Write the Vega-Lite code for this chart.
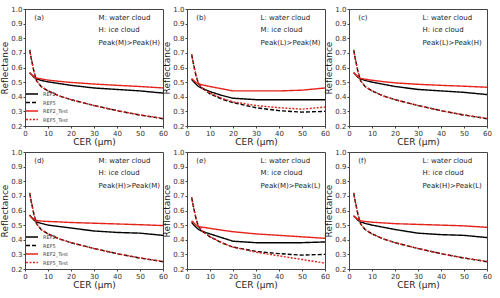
{
  "$schema": "https://vega.github.io/schema/vega-lite/v6.json",
  "padding": {"left": 0, "top": 4, "right": 0, "bottom": 0},
  "background": "white",
  "datasets": {
    "curves": [
      {"p":"a","s":"REF2","x":2,"y":0.565},{"p":"a","s":"REF2","x":3,"y":0.548},{"p":"a","s":"REF2","x":4,"y":0.532},{"p":"a","s":"REF2","x":5,"y":0.522},{"p":"a","s":"REF2","x":7,"y":0.512},{"p":"a","s":"REF2","x":10,"y":0.502},{"p":"a","s":"REF2","x":15,"y":0.49},{"p":"a","s":"REF2","x":20,"y":0.478},{"p":"a","s":"REF2","x":30,"y":0.46},{"p":"a","s":"REF2","x":40,"y":0.45},{"p":"a","s":"REF2","x":50,"y":0.44},{"p":"a","s":"REF2","x":60,"y":0.425},
      {"p":"a","s":"REF5","x":2,"y":0.72},{"p":"a","s":"REF5","x":3,"y":0.64},{"p":"a","s":"REF5","x":4,"y":0.565},{"p":"a","s":"REF5","x":5,"y":0.51},{"p":"a","s":"REF5","x":7,"y":0.47},{"p":"a","s":"REF5","x":10,"y":0.44},{"p":"a","s":"REF5","x":15,"y":0.405},{"p":"a","s":"REF5","x":20,"y":0.38},{"p":"a","s":"REF5","x":30,"y":0.34},{"p":"a","s":"REF5","x":40,"y":0.305},{"p":"a","s":"REF5","x":50,"y":0.275},{"p":"a","s":"REF5","x":60,"y":0.25},
      {"p":"a","s":"REF2_Test","x":2,"y":0.565},{"p":"a","s":"REF2_Test","x":3,"y":0.55},{"p":"a","s":"REF2_Test","x":4,"y":0.536},{"p":"a","s":"REF2_Test","x":5,"y":0.528},{"p":"a","s":"REF2_Test","x":7,"y":0.522},{"p":"a","s":"REF2_Test","x":10,"y":0.514},{"p":"a","s":"REF2_Test","x":15,"y":0.505},{"p":"a","s":"REF2_Test","x":20,"y":0.498},{"p":"a","s":"REF2_Test","x":30,"y":0.487},{"p":"a","s":"REF2_Test","x":40,"y":0.478},{"p":"a","s":"REF2_Test","x":50,"y":0.47},{"p":"a","s":"REF2_Test","x":60,"y":0.46},
      {"p":"a","s":"REF5_Test","x":2,"y":0.72},{"p":"a","s":"REF5_Test","x":3,"y":0.64},{"p":"a","s":"REF5_Test","x":4,"y":0.565},{"p":"a","s":"REF5_Test","x":5,"y":0.51},{"p":"a","s":"REF5_Test","x":7,"y":0.47},{"p":"a","s":"REF5_Test","x":10,"y":0.44},{"p":"a","s":"REF5_Test","x":15,"y":0.405},{"p":"a","s":"REF5_Test","x":20,"y":0.38},{"p":"a","s":"REF5_Test","x":30,"y":0.34},{"p":"a","s":"REF5_Test","x":40,"y":0.305},{"p":"a","s":"REF5_Test","x":50,"y":0.276},{"p":"a","s":"REF5_Test","x":60,"y":0.252},

      {"p":"b","s":"REF2","x":2,"y":0.52},{"p":"b","s":"REF2","x":3,"y":0.5},{"p":"b","s":"REF2","x":4,"y":0.485},{"p":"b","s":"REF2","x":5,"y":0.47},{"p":"b","s":"REF2","x":7,"y":0.455},{"p":"b","s":"REF2","x":10,"y":0.435},{"p":"b","s":"REF2","x":15,"y":0.41},{"p":"b","s":"REF2","x":20,"y":0.39},{"p":"b","s":"REF2","x":30,"y":0.38},{"p":"b","s":"REF2","x":40,"y":0.38},{"p":"b","s":"REF2","x":50,"y":0.38},{"p":"b","s":"REF2","x":60,"y":0.38},
      {"p":"b","s":"REF5","x":2,"y":0.69},{"p":"b","s":"REF5","x":3,"y":0.61},{"p":"b","s":"REF5","x":4,"y":0.54},{"p":"b","s":"REF5","x":5,"y":0.49},{"p":"b","s":"REF5","x":7,"y":0.455},{"p":"b","s":"REF5","x":10,"y":0.42},{"p":"b","s":"REF5","x":15,"y":0.385},{"p":"b","s":"REF5","x":20,"y":0.36},{"p":"b","s":"REF5","x":30,"y":0.325},{"p":"b","s":"REF5","x":40,"y":0.305},{"p":"b","s":"REF5","x":50,"y":0.295},{"p":"b","s":"REF5","x":60,"y":0.3},
      {"p":"b","s":"REF2_Test","x":2,"y":0.525},{"p":"b","s":"REF2_Test","x":3,"y":0.51},{"p":"b","s":"REF2_Test","x":4,"y":0.497},{"p":"b","s":"REF2_Test","x":5,"y":0.488},{"p":"b","s":"REF2_Test","x":7,"y":0.48},{"p":"b","s":"REF2_Test","x":10,"y":0.47},{"p":"b","s":"REF2_Test","x":15,"y":0.455},{"p":"b","s":"REF2_Test","x":20,"y":0.44},{"p":"b","s":"REF2_Test","x":30,"y":0.44},{"p":"b","s":"REF2_Test","x":40,"y":0.44},{"p":"b","s":"REF2_Test","x":50,"y":0.445},{"p":"b","s":"REF2_Test","x":60,"y":0.46},
      {"p":"b","s":"REF5_Test","x":2,"y":0.69},{"p":"b","s":"REF5_Test","x":3,"y":0.61},{"p":"b","s":"REF5_Test","x":4,"y":0.54},{"p":"b","s":"REF5_Test","x":5,"y":0.49},{"p":"b","s":"REF5_Test","x":7,"y":0.455},{"p":"b","s":"REF5_Test","x":10,"y":0.425},{"p":"b","s":"REF5_Test","x":15,"y":0.39},{"p":"b","s":"REF5_Test","x":20,"y":0.365},{"p":"b","s":"REF5_Test","x":30,"y":0.34},{"p":"b","s":"REF5_Test","x":40,"y":0.325},{"p":"b","s":"REF5_Test","x":50,"y":0.315},{"p":"b","s":"REF5_Test","x":60,"y":0.33},

      {"p":"c","s":"REF2","x":2,"y":0.565},{"p":"c","s":"REF2","x":3,"y":0.548},{"p":"c","s":"REF2","x":4,"y":0.532},{"p":"c","s":"REF2","x":5,"y":0.522},{"p":"c","s":"REF2","x":7,"y":0.512},{"p":"c","s":"REF2","x":10,"y":0.5},{"p":"c","s":"REF2","x":15,"y":0.485},{"p":"c","s":"REF2","x":20,"y":0.47},{"p":"c","s":"REF2","x":30,"y":0.45},{"p":"c","s":"REF2","x":40,"y":0.44},{"p":"c","s":"REF2","x":50,"y":0.43},{"p":"c","s":"REF2","x":60,"y":0.415},
      {"p":"c","s":"REF5","x":2,"y":0.72},{"p":"c","s":"REF5","x":3,"y":0.64},{"p":"c","s":"REF5","x":4,"y":0.565},{"p":"c","s":"REF5","x":5,"y":0.51},{"p":"c","s":"REF5","x":7,"y":0.47},{"p":"c","s":"REF5","x":10,"y":0.44},{"p":"c","s":"REF5","x":15,"y":0.405},{"p":"c","s":"REF5","x":20,"y":0.38},{"p":"c","s":"REF5","x":30,"y":0.34},{"p":"c","s":"REF5","x":40,"y":0.305},{"p":"c","s":"REF5","x":50,"y":0.275},{"p":"c","s":"REF5","x":60,"y":0.25},
      {"p":"c","s":"REF2_Test","x":2,"y":0.565},{"p":"c","s":"REF2_Test","x":3,"y":0.55},{"p":"c","s":"REF2_Test","x":4,"y":0.536},{"p":"c","s":"REF2_Test","x":5,"y":0.525},{"p":"c","s":"REF2_Test","x":7,"y":0.52},{"p":"c","s":"REF2_Test","x":10,"y":0.513},{"p":"c","s":"REF2_Test","x":15,"y":0.503},{"p":"c","s":"REF2_Test","x":20,"y":0.495},{"p":"c","s":"REF2_Test","x":30,"y":0.485},{"p":"c","s":"REF2_Test","x":40,"y":0.478},{"p":"c","s":"REF2_Test","x":50,"y":0.472},{"p":"c","s":"REF2_Test","x":60,"y":0.465},
      {"p":"c","s":"REF5_Test","x":2,"y":0.72},{"p":"c","s":"REF5_Test","x":3,"y":0.64},{"p":"c","s":"REF5_Test","x":4,"y":0.565},{"p":"c","s":"REF5_Test","x":5,"y":0.51},{"p":"c","s":"REF5_Test","x":7,"y":0.47},{"p":"c","s":"REF5_Test","x":10,"y":0.44},{"p":"c","s":"REF5_Test","x":15,"y":0.405},{"p":"c","s":"REF5_Test","x":20,"y":0.38},{"p":"c","s":"REF5_Test","x":30,"y":0.34},{"p":"c","s":"REF5_Test","x":40,"y":0.305},{"p":"c","s":"REF5_Test","x":50,"y":0.276},{"p":"c","s":"REF5_Test","x":60,"y":0.252},

      {"p":"d","s":"REF2","x":2,"y":0.57},{"p":"d","s":"REF2","x":3,"y":0.55},{"p":"d","s":"REF2","x":4,"y":0.533},{"p":"d","s":"REF2","x":5,"y":0.522},{"p":"d","s":"REF2","x":7,"y":0.512},{"p":"d","s":"REF2","x":10,"y":0.5},{"p":"d","s":"REF2","x":15,"y":0.49},{"p":"d","s":"REF2","x":20,"y":0.48},{"p":"d","s":"REF2","x":30,"y":0.46},{"p":"d","s":"REF2","x":40,"y":0.45},{"p":"d","s":"REF2","x":50,"y":0.445},{"p":"d","s":"REF2","x":60,"y":0.43},
      {"p":"d","s":"REF5","x":2,"y":0.72},{"p":"d","s":"REF5","x":3,"y":0.64},{"p":"d","s":"REF5","x":4,"y":0.565},{"p":"d","s":"REF5","x":5,"y":0.51},{"p":"d","s":"REF5","x":7,"y":0.47},{"p":"d","s":"REF5","x":10,"y":0.44},{"p":"d","s":"REF5","x":15,"y":0.405},{"p":"d","s":"REF5","x":20,"y":0.38},{"p":"d","s":"REF5","x":30,"y":0.34},{"p":"d","s":"REF5","x":40,"y":0.305},{"p":"d","s":"REF5","x":50,"y":0.275},{"p":"d","s":"REF5","x":60,"y":0.25},
      {"p":"d","s":"REF2_Test","x":2,"y":0.565},{"p":"d","s":"REF2_Test","x":3,"y":0.55},{"p":"d","s":"REF2_Test","x":4,"y":0.538},{"p":"d","s":"REF2_Test","x":5,"y":0.532},{"p":"d","s":"REF2_Test","x":7,"y":0.528},{"p":"d","s":"REF2_Test","x":10,"y":0.525},{"p":"d","s":"REF2_Test","x":15,"y":0.522},{"p":"d","s":"REF2_Test","x":20,"y":0.518},{"p":"d","s":"REF2_Test","x":30,"y":0.513},{"p":"d","s":"REF2_Test","x":40,"y":0.508},{"p":"d","s":"REF2_Test","x":50,"y":0.503},{"p":"d","s":"REF2_Test","x":60,"y":0.497},
      {"p":"d","s":"REF5_Test","x":2,"y":0.72},{"p":"d","s":"REF5_Test","x":3,"y":0.64},{"p":"d","s":"REF5_Test","x":4,"y":0.565},{"p":"d","s":"REF5_Test","x":5,"y":0.51},{"p":"d","s":"REF5_Test","x":7,"y":0.47},{"p":"d","s":"REF5_Test","x":10,"y":0.44},{"p":"d","s":"REF5_Test","x":15,"y":0.405},{"p":"d","s":"REF5_Test","x":20,"y":0.38},{"p":"d","s":"REF5_Test","x":30,"y":0.34},{"p":"d","s":"REF5_Test","x":40,"y":0.305},{"p":"d","s":"REF5_Test","x":50,"y":0.276},{"p":"d","s":"REF5_Test","x":60,"y":0.252},

      {"p":"e","s":"REF2","x":2,"y":0.52},{"p":"e","s":"REF2","x":3,"y":0.5},{"p":"e","s":"REF2","x":4,"y":0.485},{"p":"e","s":"REF2","x":5,"y":0.47},{"p":"e","s":"REF2","x":7,"y":0.455},{"p":"e","s":"REF2","x":10,"y":0.44},{"p":"e","s":"REF2","x":15,"y":0.415},{"p":"e","s":"REF2","x":20,"y":0.39},{"p":"e","s":"REF2","x":30,"y":0.38},{"p":"e","s":"REF2","x":40,"y":0.38},{"p":"e","s":"REF2","x":50,"y":0.38},{"p":"e","s":"REF2","x":60,"y":0.385},
      {"p":"e","s":"REF5","x":2,"y":0.69},{"p":"e","s":"REF5","x":3,"y":0.61},{"p":"e","s":"REF5","x":4,"y":0.54},{"p":"e","s":"REF5","x":5,"y":0.49},{"p":"e","s":"REF5","x":7,"y":0.455},{"p":"e","s":"REF5","x":10,"y":0.42},{"p":"e","s":"REF5","x":15,"y":0.38},{"p":"e","s":"REF5","x":20,"y":0.35},{"p":"e","s":"REF5","x":30,"y":0.32},{"p":"e","s":"REF5","x":40,"y":0.305},{"p":"e","s":"REF5","x":50,"y":0.295},{"p":"e","s":"REF5","x":60,"y":0.3},
      {"p":"e","s":"REF2_Test","x":2,"y":0.53},{"p":"e","s":"REF2_Test","x":3,"y":0.515},{"p":"e","s":"REF2_Test","x":4,"y":0.5},{"p":"e","s":"REF2_Test","x":5,"y":0.49},{"p":"e","s":"REF2_Test","x":7,"y":0.485},{"p":"e","s":"REF2_Test","x":10,"y":0.478},{"p":"e","s":"REF2_Test","x":15,"y":0.466},{"p":"e","s":"REF2_Test","x":20,"y":0.455},{"p":"e","s":"REF2_Test","x":30,"y":0.44},{"p":"e","s":"REF2_Test","x":40,"y":0.43},{"p":"e","s":"REF2_Test","x":50,"y":0.42},{"p":"e","s":"REF2_Test","x":60,"y":0.41},
      {"p":"e","s":"REF5_Test","x":2,"y":0.69},{"p":"e","s":"REF5_Test","x":3,"y":0.61},{"p":"e","s":"REF5_Test","x":4,"y":0.54},{"p":"e","s":"REF5_Test","x":5,"y":0.49},{"p":"e","s":"REF5_Test","x":7,"y":0.455},{"p":"e","s":"REF5_Test","x":10,"y":0.42},{"p":"e","s":"REF5_Test","x":15,"y":0.38},{"p":"e","s":"REF5_Test","x":20,"y":0.35},{"p":"e","s":"REF5_Test","x":30,"y":0.315},{"p":"e","s":"REF5_Test","x":40,"y":0.29},{"p":"e","s":"REF5_Test","x":50,"y":0.265},{"p":"e","s":"REF5_Test","x":60,"y":0.24},

      {"p":"f","s":"REF2","x":2,"y":0.565},{"p":"f","s":"REF2","x":3,"y":0.548},{"p":"f","s":"REF2","x":4,"y":0.532},{"p":"f","s":"REF2","x":5,"y":0.522},{"p":"f","s":"REF2","x":7,"y":0.512},{"p":"f","s":"REF2","x":10,"y":0.5},{"p":"f","s":"REF2","x":15,"y":0.485},{"p":"f","s":"REF2","x":20,"y":0.47},{"p":"f","s":"REF2","x":30,"y":0.445},{"p":"f","s":"REF2","x":40,"y":0.435},{"p":"f","s":"REF2","x":50,"y":0.43},{"p":"f","s":"REF2","x":60,"y":0.415},
      {"p":"f","s":"REF5","x":2,"y":0.72},{"p":"f","s":"REF5","x":3,"y":0.64},{"p":"f","s":"REF5","x":4,"y":0.565},{"p":"f","s":"REF5","x":5,"y":0.51},{"p":"f","s":"REF5","x":7,"y":0.47},{"p":"f","s":"REF5","x":10,"y":0.44},{"p":"f","s":"REF5","x":15,"y":0.405},{"p":"f","s":"REF5","x":20,"y":0.38},{"p":"f","s":"REF5","x":30,"y":0.34},{"p":"f","s":"REF5","x":40,"y":0.305},{"p":"f","s":"REF5","x":50,"y":0.275},{"p":"f","s":"REF5","x":60,"y":0.25},
      {"p":"f","s":"REF2_Test","x":2,"y":0.56},{"p":"f","s":"REF2_Test","x":3,"y":0.55},{"p":"f","s":"REF2_Test","x":4,"y":0.538},{"p":"f","s":"REF2_Test","x":5,"y":0.53},{"p":"f","s":"REF2_Test","x":7,"y":0.525},{"p":"f","s":"REF2_Test","x":10,"y":0.52},{"p":"f","s":"REF2_Test","x":15,"y":0.515},{"p":"f","s":"REF2_Test","x":20,"y":0.51},{"p":"f","s":"REF2_Test","x":30,"y":0.505},{"p":"f","s":"REF2_Test","x":40,"y":0.5},{"p":"f","s":"REF2_Test","x":50,"y":0.495},{"p":"f","s":"REF2_Test","x":60,"y":0.485},
      {"p":"f","s":"REF5_Test","x":2,"y":0.72},{"p":"f","s":"REF5_Test","x":3,"y":0.64},{"p":"f","s":"REF5_Test","x":4,"y":0.565},{"p":"f","s":"REF5_Test","x":5,"y":0.51},{"p":"f","s":"REF5_Test","x":7,"y":0.47},{"p":"f","s":"REF5_Test","x":10,"y":0.44},{"p":"f","s":"REF5_Test","x":15,"y":0.405},{"p":"f","s":"REF5_Test","x":20,"y":0.38},{"p":"f","s":"REF5_Test","x":30,"y":0.34},{"p":"f","s":"REF5_Test","x":40,"y":0.305},{"p":"f","s":"REF5_Test","x":50,"y":0.276},{"p":"f","s":"REF5_Test","x":60,"y":0.252}
    ],
    "notes": [
      {"p":"a","x":4,"y":0.94,"t":"(a)"},{"p":"a","x":32,"y":0.94,"t":"M: water cloud"},{"p":"a","x":32,"y":0.855,"t":"H: ice cloud"},{"p":"a","x":32,"y":0.77,"t":"Peak(M)>Peak(H)"},
      {"p":"b","x":4,"y":0.94,"t":"(b)"},{"p":"b","x":32,"y":0.94,"t":"L: water cloud"},{"p":"b","x":32,"y":0.855,"t":"M: ice cloud"},{"p":"b","x":32,"y":0.77,"t":"Peak(L)>Peak(M)"},
      {"p":"c","x":4,"y":0.94,"t":"(c)"},{"p":"c","x":32,"y":0.94,"t":"L: water cloud"},{"p":"c","x":32,"y":0.855,"t":"H: ice cloud"},{"p":"c","x":32,"y":0.77,"t":"Peak(L)>Peak(H)"},
      {"p":"d","x":4,"y":0.94,"t":"(d)"},{"p":"d","x":32,"y":0.94,"t":"M: water cloud"},{"p":"d","x":32,"y":0.855,"t":"H: ice cloud"},{"p":"d","x":32,"y":0.77,"t":"Peak(H)>Peak(M)"},
      {"p":"e","x":4,"y":0.94,"t":"(e)"},{"p":"e","x":32,"y":0.94,"t":"L: water cloud"},{"p":"e","x":32,"y":0.855,"t":"M: ice cloud"},{"p":"e","x":32,"y":0.77,"t":"Peak(M)>Peak(L)"},
      {"p":"f","x":4,"y":0.94,"t":"(f)"},{"p":"f","x":32,"y":0.94,"t":"L: water cloud"},{"p":"f","x":32,"y":0.855,"t":"H: ice cloud"},{"p":"f","x":32,"y":0.77,"t":"Peak(H)>Peak(L)"}
    ]
  },
  "columns": 3,
  "spacing": {"column": -6, "row": 0},
  "resolve": {"legend": {"color": "independent", "strokeDash": "independent"}},
  "concat": [
    {"width":138,"height":117,
     "encoding":{"x":{"field":"x","type":"quantitative","scale":{"domain":[0,60]},"axis":{"values":[0,10,20,30,40,50,60],"title":"CER (μm)"}},
        "y":{"field":"y","type":"quantitative","scale":{"domain":[0.2,1.0]},"axis":{"values":[0.2,0.3,0.4,0.5,0.6,0.7,0.8,0.9,1.0],"format":".1f","title":"Reflectance"}}},
     "layer":[
      {"data":{"name":"curves"},"transform":[{"filter":"datum.p==='a'"}],"mark":{"type":"line","strokeWidth":1.4},
       "encoding":{
        "color":{"field":"s","type":"nominal","scale":{"domain":["REF2","REF5","REF2_Test","REF5_Test"],"range":["#000000","#000000","#e5231b","#e5231b"]},"legend":{}},
        "strokeDash":{"field":"s","type":"nominal","scale":{"domain":["REF2","REF5","REF2_Test","REF5_Test"],"range":[[1,0],[4,2],[1,0],[2,1.5]]},"legend":{}}}},
      {"data":{"name":"notes"},"transform":[{"filter":"datum.p==='a'"}],"mark":{"type":"text","align":"left","baseline":"middle","fontSize":7,"font":"DejaVu Sans","color":"#222"},
       "encoding":{"text":{"field":"t"}}}
    ]},
    {"width":138,"height":117,
     "encoding":{"x":{"field":"x","type":"quantitative","scale":{"domain":[0,60]},"axis":{"values":[0,10,20,30,40,50,60],"title":"CER (μm)"}},
        "y":{"field":"y","type":"quantitative","scale":{"domain":[0.2,1.0]},"axis":{"values":[0.2,0.3,0.4,0.5,0.6,0.7,0.8,0.9,1.0],"format":".1f","title":"Reflectance"}}},
     "layer":[
      {"data":{"name":"curves"},"transform":[{"filter":"datum.p==='b'"}],"mark":{"type":"line","strokeWidth":1.4},
       "encoding":{
        "color":{"field":"s","type":"nominal","scale":{"domain":["REF2","REF5","REF2_Test","REF5_Test"],"range":["#000000","#000000","#e5231b","#e5231b"]},"legend":null},
        "strokeDash":{"field":"s","type":"nominal","scale":{"domain":["REF2","REF5","REF2_Test","REF5_Test"],"range":[[1,0],[4,2],[1,0],[2,1.5]]},"legend":null}}},
      {"data":{"name":"notes"},"transform":[{"filter":"datum.p==='b'"}],"mark":{"type":"text","align":"left","baseline":"middle","fontSize":7,"font":"DejaVu Sans","color":"#222"},
       "encoding":{"text":{"field":"t"}}}
    ]},
    {"width":138,"height":117,
     "encoding":{"x":{"field":"x","type":"quantitative","scale":{"domain":[0,60]},"axis":{"values":[0,10,20,30,40,50,60],"title":"CER (μm)"}},
        "y":{"field":"y","type":"quantitative","scale":{"domain":[0.2,1.0]},"axis":{"values":[0.2,0.3,0.4,0.5,0.6,0.7,0.8,0.9,1.0],"format":".1f","title":"Reflectance"}}},
     "layer":[
      {"data":{"name":"curves"},"transform":[{"filter":"datum.p==='c'"}],"mark":{"type":"line","strokeWidth":1.4},
       "encoding":{
        "color":{"field":"s","type":"nominal","scale":{"domain":["REF2","REF5","REF2_Test","REF5_Test"],"range":["#000000","#000000","#e5231b","#e5231b"]},"legend":null},
        "strokeDash":{"field":"s","type":"nominal","scale":{"domain":["REF2","REF5","REF2_Test","REF5_Test"],"range":[[1,0],[4,2],[1,0],[2,1.5]]},"legend":null}}},
      {"data":{"name":"notes"},"transform":[{"filter":"datum.p==='c'"}],"mark":{"type":"text","align":"left","baseline":"middle","fontSize":7,"font":"DejaVu Sans","color":"#222"},
       "encoding":{"text":{"field":"t"}}}
    ]},
    {"width":138,"height":117,
     "encoding":{"x":{"field":"x","type":"quantitative","scale":{"domain":[0,60]},"axis":{"values":[0,10,20,30,40,50,60],"title":"CER (μm)"}},
        "y":{"field":"y","type":"quantitative","scale":{"domain":[0.2,1.0]},"axis":{"values":[0.2,0.3,0.4,0.5,0.6,0.7,0.8,0.9,1.0],"format":".1f","title":"Reflectance"}}},
     "layer":[
      {"data":{"name":"curves"},"transform":[{"filter":"datum.p==='d'"}],"mark":{"type":"line","strokeWidth":1.4},
       "encoding":{
        "color":{"field":"s","type":"nominal","scale":{"domain":["REF2","REF5","REF2_Test","REF5_Test"],"range":["#000000","#000000","#e5231b","#e5231b"]},"legend":{}},
        "strokeDash":{"field":"s","type":"nominal","scale":{"domain":["REF2","REF5","REF2_Test","REF5_Test"],"range":[[1,0],[4,2],[1,0],[2,1.5]]},"legend":{}}}},
      {"data":{"name":"notes"},"transform":[{"filter":"datum.p==='d'"}],"mark":{"type":"text","align":"left","baseline":"middle","fontSize":7,"font":"DejaVu Sans","color":"#222"},
       "encoding":{"text":{"field":"t"}}}
    ]},
    {"width":138,"height":117,
     "encoding":{"x":{"field":"x","type":"quantitative","scale":{"domain":[0,60]},"axis":{"values":[0,10,20,30,40,50,60],"title":"CER (μm)"}},
        "y":{"field":"y","type":"quantitative","scale":{"domain":[0.2,1.0]},"axis":{"values":[0.2,0.3,0.4,0.5,0.6,0.7,0.8,0.9,1.0],"format":".1f","title":"Reflectance"}}},
     "layer":[
      {"data":{"name":"curves"},"transform":[{"filter":"datum.p==='e'"}],"mark":{"type":"line","strokeWidth":1.4},
       "encoding":{
        "color":{"field":"s","type":"nominal","scale":{"domain":["REF2","REF5","REF2_Test","REF5_Test"],"range":["#000000","#000000","#e5231b","#e5231b"]},"legend":null},
        "strokeDash":{"field":"s","type":"nominal","scale":{"domain":["REF2","REF5","REF2_Test","REF5_Test"],"range":[[1,0],[4,2],[1,0],[2,1.5]]},"legend":null}}},
      {"data":{"name":"notes"},"transform":[{"filter":"datum.p==='e'"}],"mark":{"type":"text","align":"left","baseline":"middle","fontSize":7,"font":"DejaVu Sans","color":"#222"},
       "encoding":{"text":{"field":"t"}}}
    ]},
    {"width":138,"height":117,
     "encoding":{"x":{"field":"x","type":"quantitative","scale":{"domain":[0,60]},"axis":{"values":[0,10,20,30,40,50,60],"title":"CER (μm)"}},
        "y":{"field":"y","type":"quantitative","scale":{"domain":[0.2,1.0]},"axis":{"values":[0.2,0.3,0.4,0.5,0.6,0.7,0.8,0.9,1.0],"format":".1f","title":"Reflectance"}}},
     "layer":[
      {"data":{"name":"curves"},"transform":[{"filter":"datum.p==='f'"}],"mark":{"type":"line","strokeWidth":1.4},
       "encoding":{
        "color":{"field":"s","type":"nominal","scale":{"domain":["REF2","REF5","REF2_Test","REF5_Test"],"range":["#000000","#000000","#e5231b","#e5231b"]},"legend":null},
        "strokeDash":{"field":"s","type":"nominal","scale":{"domain":["REF2","REF5","REF2_Test","REF5_Test"],"range":[[1,0],[4,2],[1,0],[2,1.5]]},"legend":null}}},
      {"data":{"name":"notes"},"transform":[{"filter":"datum.p==='f'"}],"mark":{"type":"text","align":"left","baseline":"middle","fontSize":7,"font":"DejaVu Sans","color":"#222"},
       "encoding":{"text":{"field":"t"}}}
    ]}
  ],
  "config": {
    "font": "DejaVu Sans",
    "view": {"stroke": "#444", "strokeWidth": 1},
    "axis": {"grid": false, "labelFont": "DejaVu Sans", "titleFont": "DejaVu Sans", "labelFontSize": 7, "titleFontSize": 9, "titleFontWeight": "normal", "labelColor": "#333", "titleColor": "#222", "tickSize": 2, "tickColor": "#444", "domainColor": "#444", "labelPadding": 1, "labelOverlap": false},
    "axisX": {"titlePadding": 1, "labelFlush": false},
    "axisY": {"titlePadding": 1, "labelFlush": false},
    "legend": {"orient": "bottom-left", "title": null, "labelFontSize": 5, "labelColor": "#444", "symbolType": "M-2,0H2", "symbolSize": 36, "symbolStrokeWidth": 1.5, "rowPadding": 1.5, "offset": 3, "padding": 0, "labelOffset": 7}
  }
}
